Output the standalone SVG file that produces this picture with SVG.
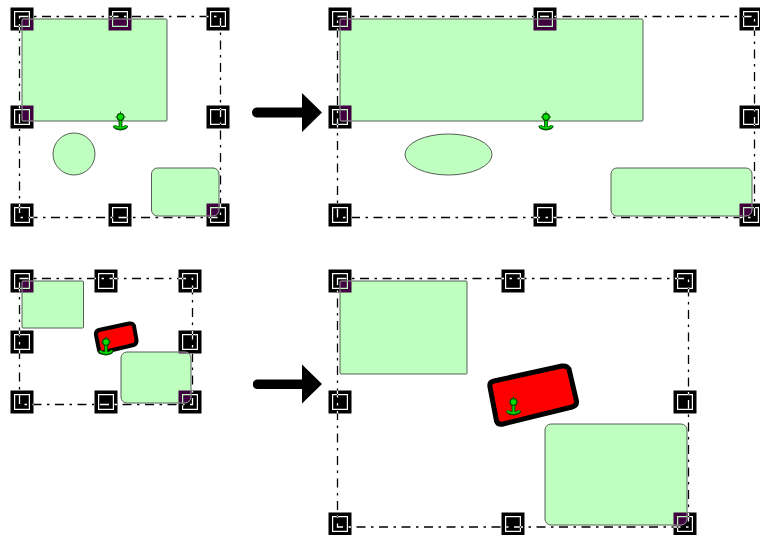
<svg xmlns="http://www.w3.org/2000/svg" xmlns:xlink="http://www.w3.org/1999/xlink" width="760" height="535" viewBox="0 0 760 535">
<style>
.s{fill:#bfffbf;stroke:#556055;stroke-width:1}
.r{fill:#ff0000;stroke:#000;stroke-linejoin:round}
.f{fill:none;stroke:#fff;stroke-width:1.300;stroke-dasharray:9 5.500 2.500 5.500;mix-blend-mode:difference}
.h{mix-blend-mode:difference}
.a{fill:#000}
</style>
<defs>
<path id="hd" fill="#fff" fill-rule="evenodd" d="M-11.500-11.500H11.500V11.500H-11.500ZM-8-8V8H8V-8ZM-6.800-6.800H6.800V6.800H-6.800Z"/>
<g id="an">
<path d="M0-5.500V2M-5 0H5" stroke="#0a5a0a" stroke-width="1" fill="none"/>
<path d="M-6 8.500Q-5 11.500 0 11.500Q5 11.500 6 8.500M0 1V11" stroke="#005000" stroke-width="3.800" fill="none"/>
<path d="M-6 8.500Q-5 11 0 11Q5 11 6 8.500M0 1V11" stroke="#00d800" stroke-width="1.800" fill="none"/>
<circle r="3.300" fill="#00e000" stroke="#005000" stroke-width="1.200"/>
</g>
</defs>
<rect width="760" height="535" fill="#fff"/>

<g id="panel-top-left">
<rect class="s" x="22" y="19" width="145" height="102" rx="1"/>
<circle class="s" cx="74" cy="154" r="21"/>
<rect class="s" x="151.500" y="168" width="67.500" height="48" rx="6"/>
</g>
<g id="panel-top-right">
<rect class="s" x="340" y="19" width="303" height="102" rx="1"/>
<ellipse class="s" cx="448.500" cy="154.500" rx="43.500" ry="20.500"/>
<rect class="s" x="611" y="168" width="141" height="48" rx="6"/>
</g>
<g id="panel-bottom-left">
<rect class="s" x="22" y="281" width="61.500" height="47" rx="1"/>
<path class="r" stroke-width="4" d="M99 330L129 323.500Q133 323 134 326L136.500 340Q137 344 133.500 345L104 352Q100 353 99 350L96 335Q95.500 331 99 330Z"/>
<rect class="s" x="121" y="352" width="70" height="51" rx="6"/>
</g>
<g id="panel-bottom-right">
<rect class="s" x="340" y="281" width="127" height="93" rx="1"/>
<path class="r" stroke-width="5" d="M494 381L562 366Q567 365.500 569 369L576.500 401Q577 405.500 572 407L503 424Q498 425 496.500 421L490 387Q489 382 494 381Z"/>
<rect class="s" x="545" y="424" width="142" height="101" rx="6"/>
</g>

<g id="connectors">
<rect class="f" x="19.500" y="16.500" width="201" height="201"/>
<rect class="f" x="337.500" y="16.500" width="417" height="201"/>
<rect class="f" x="19.500" y="278.500" width="173" height="126"/>
<rect class="f" x="337.500" y="278.500" width="351" height="248.500"/>
<path id="arrow-top" class="a" d="M257 107.500H302V93L322 112.500L302 132V117.500H257A5 5 0 0 1 257 107.500Z"/>
<path id="arrow-bottom" class="a" d="M257 379.500H302V364.500L322 384L302 403.500V389H257A4.800 4.800 0 0 1 257 379.500Z"/>
</g>

<g id="handles-top-left">
<use class="h" xlink:href="#hd" x="22" y="19"/><use class="h" xlink:href="#hd" x="120" y="19"/><use class="h" xlink:href="#hd" x="218" y="19"/>
<use class="h" xlink:href="#hd" x="22" y="117"/><use class="h" xlink:href="#hd" x="218" y="117"/>
<use class="h" xlink:href="#hd" x="22" y="215"/><use class="h" xlink:href="#hd" x="120" y="215"/><use class="h" xlink:href="#hd" x="218" y="215"/>
</g>
<g id="handles-top-right">
<use class="h" xlink:href="#hd" x="340" y="19"/><use class="h" xlink:href="#hd" x="545" y="19"/><use class="h" xlink:href="#hd" x="751" y="19"/>
<use class="h" xlink:href="#hd" x="340" y="117"/><use class="h" xlink:href="#hd" x="751" y="117"/>
<use class="h" xlink:href="#hd" x="340" y="215"/><use class="h" xlink:href="#hd" x="545" y="215"/><use class="h" xlink:href="#hd" x="751" y="215"/>
</g>
<g id="handles-bottom-left">
<use class="h" xlink:href="#hd" x="22" y="281"/><use class="h" xlink:href="#hd" x="106" y="281"/><use class="h" xlink:href="#hd" x="190" y="281"/>
<use class="h" xlink:href="#hd" x="22" y="342"/><use class="h" xlink:href="#hd" x="190" y="342"/>
<use class="h" xlink:href="#hd" x="22" y="402"/><use class="h" xlink:href="#hd" x="106" y="402"/><use class="h" xlink:href="#hd" x="190" y="402"/>
</g>
<g id="handles-bottom-right">
<use class="h" xlink:href="#hd" x="340" y="281"/><use class="h" xlink:href="#hd" x="513" y="281"/><use class="h" xlink:href="#hd" x="685" y="281"/>
<use class="h" xlink:href="#hd" x="340" y="402"/><use class="h" xlink:href="#hd" x="685" y="402"/>
<use class="h" xlink:href="#hd" x="340" y="524"/><use class="h" xlink:href="#hd" x="513" y="524"/><use class="h" xlink:href="#hd" x="685" y="524"/>
</g>

<g id="anchors">
<use xlink:href="#an" x="120.500" y="117"/>
<use xlink:href="#an" x="546" y="117"/>
<use xlink:href="#an" x="106" y="342"/>
<use xlink:href="#an" x="513.500" y="402"/>
</g>
</svg>
